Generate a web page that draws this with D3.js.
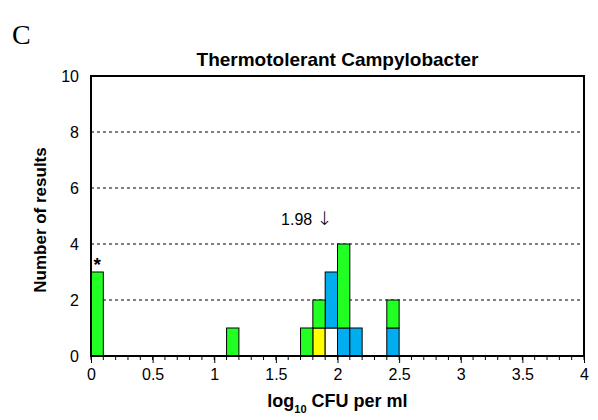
<!DOCTYPE html>
<html>
<head>
<meta charset="utf-8">
<script src="https://d3js.org/d3.v7.min.js"></script>
<style>
  body { margin: 0; background: #fff; }
  text { font-family: "Liberation Sans", Arial, sans-serif; }
</style>
</head>
<body>
<script>
// bins of 0.1 log10 CFU/ml (lower edge)
var bins = [0.0, 1.1, 1.7, 1.8, 1.9, 2.0, 2.1, 2.4];
// stacked counts, bottom to top
var yellow = [0, 0, 0, 1, 0, 0, 0, 0];
var white  = [0, 0, 0, 0, 1, 0, 0, 0];
var blue   = [0, 0, 0, 0, 2, 1, 1, 1];
var green  = [3, 1, 1, 1, 0, 3, 0, 1];
var seriesNames = ['yellow', 'white', 'blue', 'green'];
var seriesColors = ['#ffff00', '#ffffff', '#00aeef', '#22ff22'];
var xTicks = [0, 0.5, 1, 1.5, 2, 2.5, 3, 3.5, 4];
var yTicks = [0, 2, 4, 6, 8, 10];
var gridTicks = [2, 4, 6, 8];

var W = 598, H = 420;
var margin = { top: 76, right: 14, bottom: 64, left: 91 };
var width = W - margin.left - margin.right;
var height = H - margin.top - margin.bottom;

var svg = d3.select('body').append('svg').attr('width', W).attr('height', H);
var g = svg.append('g').attr('transform', 'translate(' + margin.left + ',' + margin.top + ')');

var x = d3.scaleLinear().domain([0, 4]).range([0, width]);
var y = d3.scaleLinear().domain([0, 10]).range([height, 0]);

// gridlines
g.selectAll('.grid').data(gridTicks).enter().append('line')
  .attr('x1', 0).attr('x2', width)
  .attr('y1', function (d) { return y(d); }).attr('y2', function (d) { return y(d); })
  .attr('stroke', '#000').attr('stroke-width', 1).attr('stroke-dasharray', '3,3');

// stacked bars
var table = bins.map(function (b, i) {
  return { bin: b, yellow: yellow[i], white: white[i], blue: blue[i], green: green[i] };
});
var stacked = d3.stack().keys(seriesNames)(table);
stacked.forEach(function (layer, k) {
  g.selectAll('.bar' + k).data(layer.filter(function (d) { return d[1] > d[0]; }))
    .enter().append('rect')
    .attr('x', function (d) { return x(d.data.bin); })
    .attr('width', function (d) { return x(d.data.bin + 0.1) - x(d.data.bin); })
    .attr('y', function (d) { return y(d[1]); })
    .attr('height', function (d) { return y(d[0]) - y(d[1]); })
    .attr('fill', seriesColors[k])
    .attr('stroke', '#000').attr('stroke-width', 1);
});

// minor x ticks
g.selectAll('.minor').data(d3.range(0, 41).map(function (i) { return i / 10; })).enter().append('line')
  .attr('x1', function (d) { return x(d); }).attr('x2', function (d) { return x(d); })
  .attr('y1', height).attr('y2', height + 4)
  .attr('stroke', '#000').attr('stroke-width', 1);

// axes
var xAxis = g.append('g').attr('transform', 'translate(0,' + height + ')')
  .call(d3.axisBottom(x).tickValues(xTicks).tickSize(7).tickPadding(6).tickFormat(d3.format('')));
xAxis.select('.domain').remove();
xAxis.selectAll('text').style('font-size', '16px').attr('fill', '#000');

var yAxis = g.append('g')
  .call(d3.axisLeft(y).tickValues(yTicks).tickSize(0).tickPadding(12));
yAxis.select('.domain').remove();
yAxis.selectAll('text').style('font-size', '16px').attr('fill', '#000');

// frame
g.append('rect').attr('width', width).attr('height', height)
  .attr('fill', 'none').attr('stroke', '#000').attr('stroke-width', 2);

// title
svg.append('text').attr('x', margin.left + width / 2).attr('y', 66)
  .attr('text-anchor', 'middle').style('font-size', '19px').style('font-weight', 'bold')
  .text('Thermotolerant Campylobacter');

// panel letter
svg.append('text').attr('x', 12).attr('y', 44)
  .style('font-family', '"Liberation Serif", "Times New Roman", serif').style('font-size', '28px')
  .text('C');

// y label
svg.append('text').attr('transform', 'translate(46,' + (margin.top + height / 2 + 4) + ') rotate(-90)')
  .attr('text-anchor', 'middle').style('font-size', '17px').style('font-weight', 'bold')
  .text('Number of results');

// x label with subscript
var xl = svg.append('text').attr('x', margin.left + width / 2).attr('y', 407)
  .attr('text-anchor', 'middle').style('font-size', '18px').style('font-weight', 'bold');
xl.append('tspan').text('log');
xl.append('tspan').attr('dy', 6).style('font-size', '11px').text('10');
xl.append('tspan').attr('dy', -6).text(' CFU per ml');

// annotations
var ann = g.append('text').attr('x', x(1.96)).attr('y', y(4) - 19)
  .attr('text-anchor', 'end').style('font-size', '16px');
ann.append('tspan').text('1.98 ');
ann.append('tspan').style('font-size', '19px').style('font-family', '"DejaVu Sans", sans-serif').style('font-weight', '200').text('\u2193');
g.append('text').attr('x', x(0.05)).attr('y', y(3) - 1)
  .attr('text-anchor', 'middle').style('font-size', '19px').style('font-weight', 'bold')
  .text('*');
</script>
</body>
</html>
